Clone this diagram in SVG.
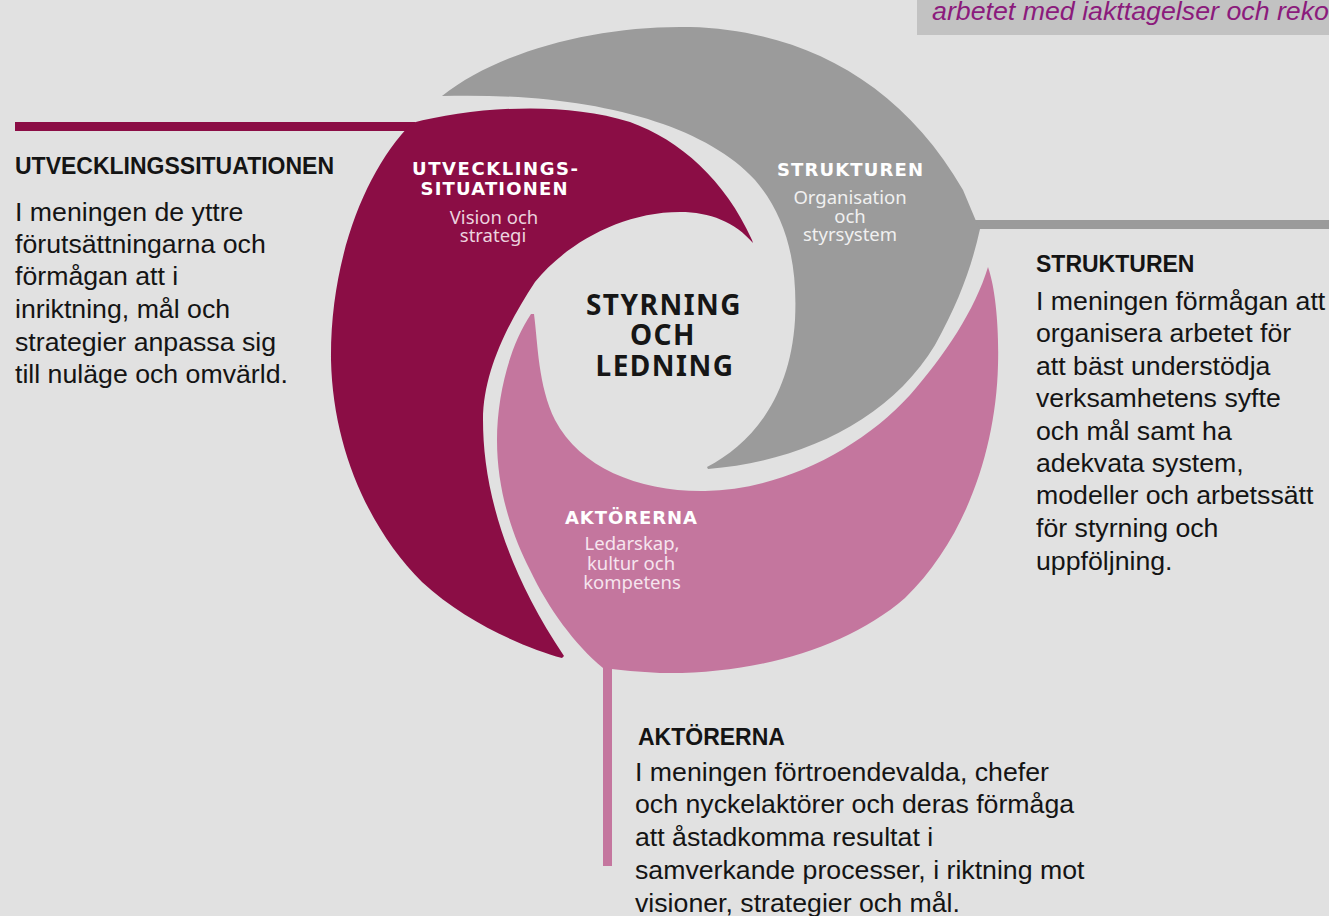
<svg xmlns="http://www.w3.org/2000/svg" width="1329" height="916" viewBox="0 0 1329 916">
<style>
.h{font-family:"Liberation Sans",Arial,sans-serif;font-weight:bold;font-size:23px;fill:#141414}
.b{font-family:"Liberation Sans",Arial,sans-serif;font-size:26.7px;fill:#141414}
.lb{font-family:"DejaVu Sans",sans-serif;font-weight:bold;font-size:18px;fill:#ffffff;text-anchor:middle}
.ls{font-family:"Noto Sans",sans-serif;font-size:18.5px;text-anchor:middle}
.c{font-family:"Noto Sans",sans-serif;font-weight:bold;font-size:28px;fill:#161616;text-anchor:middle;letter-spacing:1.5px}
.top{font-family:"Liberation Sans",Arial,sans-serif;font-style:italic;font-size:26px;fill:#8b1b7c}
</style>
<rect x="0" y="0" width="1329" height="916" fill="#e1e1e1"/>
<g id="topnote">
<rect x="917" y="0" width="412" height="35" fill="#c2c2c2"/>
<text class="top" x="932" y="20" textLength="397" lengthAdjust="spacingAndGlyphs">arbetet med iakttagelser och reko</text>
</g>
<g id="connectors">
<rect x="15" y="122" width="400" height="9" fill="#8b0d45"/>
<rect x="974" y="220" width="355" height="9" fill="#9b9b9b"/>
<rect x="603" y="660" width="9" height="206" fill="#c4769e"/>
</g>
<g id="utvecklingssituationen">
<path fill="#8b0d45" d="M 412,123 C 470,108 560,100 630,122 C 680,140 725,180 752,240 L 753,243 C 735,222 710,212 680,212 C 620,212 565,245 535,282 C 510,320 483,370 483,420 C 483,480 500,560 564,656 L 562,658 C 525,648 465,622 422,582 C 370,530 333,450 331,360 C 330,260 365,170 412,123 Z"/>
<text class="lb" x="495" y="175" textLength="166" lengthAdjust="spacing">UTVECKLINGS-</text>
<text class="lb" x="494" y="195" textLength="147" lengthAdjust="spacing">SITUATIONEN</text>
<text class="ls" x="494" y="224" fill="#ecd3df">Vision och</text>
<text class="ls" x="493" y="242" fill="#ecd3df">strategi</text>
</g>
<g id="strukturen">
<path fill="#9b9b9b" d="M 442,96 C 500,50 600,25 690,27 C 800,30 900,80 963,190 L 976,221 L 980,229 C 972,265 960,300 935,345 C 890,420 800,462 708,469 L 707,467 C 750,445 790,400 795,320 C 798,260 785,215 755,180 C 700,120 580,92 442,96 Z"/>
<text class="lb" x="850" y="176" textLength="146" lengthAdjust="spacing">STRUKTUREN</text>
<text class="ls" x="850" y="204" fill="#f0f0f0">Organisation</text>
<text class="ls" x="850" y="223" fill="#f0f0f0">och</text>
<text class="ls" x="850" y="241" fill="#f0f0f0">styrsystem</text>
</g>
<g id="aktorerna">
<path fill="#c4769e" d="M 988,267 C 996,290 999,330 998,365 C 996,450 965,540 905,598 C 845,650 750,675 660,673 C 640,672 620,670 603,668 C 575,645 548,608 530,570 C 512,535 497,490 497,440 C 497,395 510,345 531,314 L 534,314 C 538,345 538,385 555,420 C 580,468 640,492 705,491 C 780,490 860,450 910,395 C 945,355 975,310 988,267 Z"/>
<text class="lb" x="631" y="524" textLength="132" lengthAdjust="spacing">AKTÖRERNA</text>
<text class="ls" x="632" y="550" fill="#f6e4ee">Ledarskap,</text>
<text class="ls" x="631" y="570" fill="#f6e4ee">kultur och</text>
<text class="ls" x="632" y="589" fill="#f6e4ee">kompetens</text>
</g>
<g id="center">
<text class="c" x="664" y="315">STYRNING</text>
<text class="c" x="663" y="345">OCH</text>
<text class="c" x="665" y="376">LEDNING</text>
</g>
<g id="text-utveckling">
<text class="h" x="15" y="174">UTVECKLINGSSITUATIONEN</text>
<text class="b" x="15" y="221">I meningen de yttre</text>
<text class="b" x="15" y="253">förutsättningarna och</text>
<text class="b" x="15" y="285">förmågan att i</text>
<text class="b" x="15" y="318">inriktning, mål och</text>
<text class="b" x="15" y="351">strategier anpassa sig</text>
<text class="b" x="15" y="383">till nuläge och omvärld.</text>
</g>
<g id="text-strukturen">
<text class="h" x="1036" y="272">STRUKTUREN</text>
<text class="b" x="1036" y="310">I meningen förmågan att</text>
<text class="b" x="1036" y="342">organisera arbetet för</text>
<text class="b" x="1036" y="375">att bäst understödja</text>
<text class="b" x="1036" y="407">verksamhetens syfte</text>
<text class="b" x="1036" y="440">och mål samt ha</text>
<text class="b" x="1036" y="472">adekvata system,</text>
<text class="b" x="1036" y="504">modeller och arbetssätt</text>
<text class="b" x="1036" y="537">för styrning och</text>
<text class="b" x="1036" y="570">uppföljning.</text>
</g>
<g id="text-aktorerna">
<text class="h" x="638" y="745">AKTÖRERNA</text>
<text class="b" x="635" y="781">I meningen förtroendevalda, chefer</text>
<text class="b" x="635" y="813">och nyckelaktörer och deras förmåga</text>
<text class="b" x="635" y="846">att åstadkomma resultat i</text>
<text class="b" x="635" y="879">samverkande processer, i riktning mot</text>
<text class="b" x="635" y="912">visioner, strategier och mål.</text>
</g>
</svg>
